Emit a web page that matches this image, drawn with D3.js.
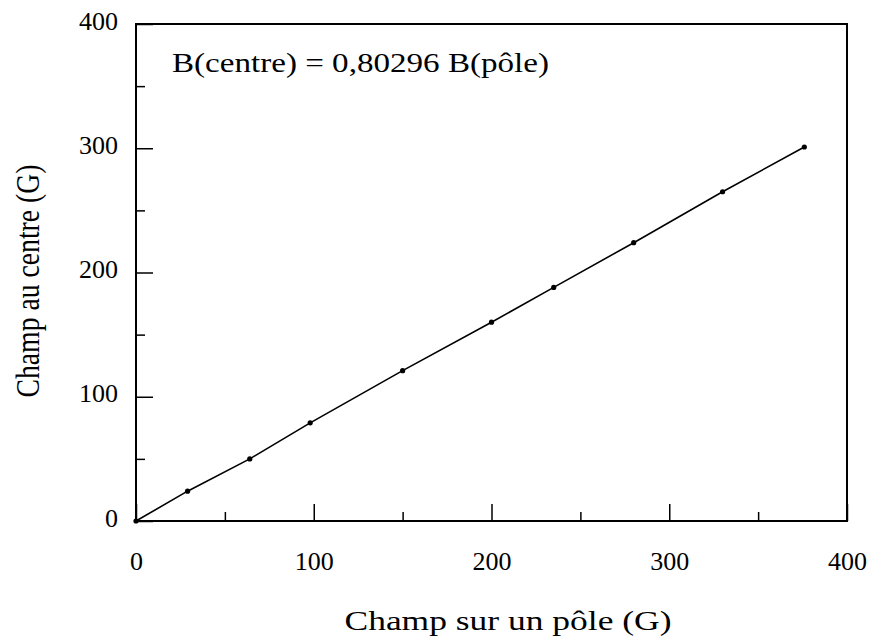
<!DOCTYPE html>
<html>
<head>
<meta charset="utf-8">
<script src="https://cdn.jsdelivr.net/npm/d3@7"></script>
<style>
  html, body { margin: 0; padding: 0; background: #fff; }
  svg { display: block; }
  text { font-family: "Liberation Serif", "Times New Roman", serif; fill: #000; }
</style>
</head>
<body>
<svg id="chart" width="869" height="642"></svg>
<script>
// ---- data ----
const poleField   = [0, 29, 64, 98, 150, 200, 235, 280, 330, 376];   // Champ sur un pôle (G)
const centreField = [0, 24, 50, 79, 121, 160, 188, 224, 265, 301];   // Champ au centre (G)
const majorTicks = [0, 100, 200, 300, 400];
const minorTicks = [50, 150, 250, 350];
const xTitle = "Champ sur un pôle (G)";
const yTitle = "Champ au centre (G)";
const annotation = "B(centre) = 0,80296 B(pôle)";

// ---- layout ----
const L = 136, R = 847, T = 24, B = 521;
const svg = d3.select("#chart");
const x = d3.scaleLinear().domain([0, 400]).range([L, R]);
const y = d3.scaleLinear().domain([0, 400]).range([B, T]);

// minor ticks
svg.append("g").attr("transform", `translate(0,${B})`)
  .call(d3.axisBottom(x).tickValues(minorTicks).tickSize(-9).tickFormat(""))
  .call(g => g.select(".domain").remove())
  .call(g => g.selectAll("line").attr("stroke", "#000").attr("stroke-width", 1.5));
svg.append("g").attr("transform", `translate(${L},0)`)
  .call(d3.axisLeft(y).tickValues(minorTicks).tickSize(-9).tickFormat(""))
  .call(g => g.select(".domain").remove())
  .call(g => g.selectAll("line").attr("stroke", "#000").attr("stroke-width", 1.5));

// major ticks + labels
svg.append("g").attr("transform", `translate(0,${B})`)
  .call(d3.axisBottom(x).tickValues(majorTicks).tickSize(-17).tickPadding(0).tickFormat(d3.format("d")))
  .call(g => g.select(".domain").remove())
  .call(g => g.selectAll("line").attr("stroke", "#000").attr("stroke-width", 1.5))
  .call(g => g.selectAll("text")
      .attr("y", 49).attr("dy", null)
      .style("font-size", "26px").style("font-family", "Liberation Serif"));
svg.append("g").attr("transform", `translate(${L},0)`)
  .call(d3.axisLeft(y).tickValues(majorTicks).tickSize(-17).tickFormat(d3.format("d")))
  .call(g => g.select(".domain").remove())
  .call(g => g.selectAll("line").attr("stroke", "#000").attr("stroke-width", 1.5))
  .call(g => g.selectAll("text")
      .attr("x", -18).attr("dy", "5")
      .style("font-size", "26px").style("font-family", "Liberation Serif"));

// frame
svg.append("rect")
  .attr("x", x(0)).attr("y", y(400))
  .attr("width", x(400) - x(0)).attr("height", y(0) - y(400))
  .attr("fill", "none").attr("stroke", "#000").attr("stroke-width", 2);

// data line + points
const pts = poleField.map((v, i) => [v, centreField[i]]);
svg.append("path")
  .datum(pts)
  .attr("fill", "none").attr("stroke", "#000").attr("stroke-width", 1.6)
  .attr("d", d3.line().x(d => x(d[0])).y(d => y(d[1])));
svg.append("g").selectAll("circle").data(pts).join("circle")
  .attr("cx", d => x(d[0])).attr("cy", d => y(d[1])).attr("r", 2.6).attr("fill", "#000");

// annotation
svg.append("text").attr("x", 172).attr("y", 72)
  .attr("textLength", 377).attr("lengthAdjust", "spacingAndGlyphs")
  .style("font-size", "27px").text(annotation);

// axis titles
svg.append("text").attr("x", 508).attr("y", 630).attr("text-anchor", "middle")
  .attr("textLength", 327).attr("lengthAdjust", "spacingAndGlyphs")
  .style("font-size", "27px").text(xTitle);
svg.append("text").attr("transform", "translate(39,281) rotate(-90)").attr("text-anchor", "middle")
  .attr("textLength", 233).attr("lengthAdjust", "spacingAndGlyphs")
  .style("font-size", "33px").text(yTitle);
</script>
</body>
</html>
